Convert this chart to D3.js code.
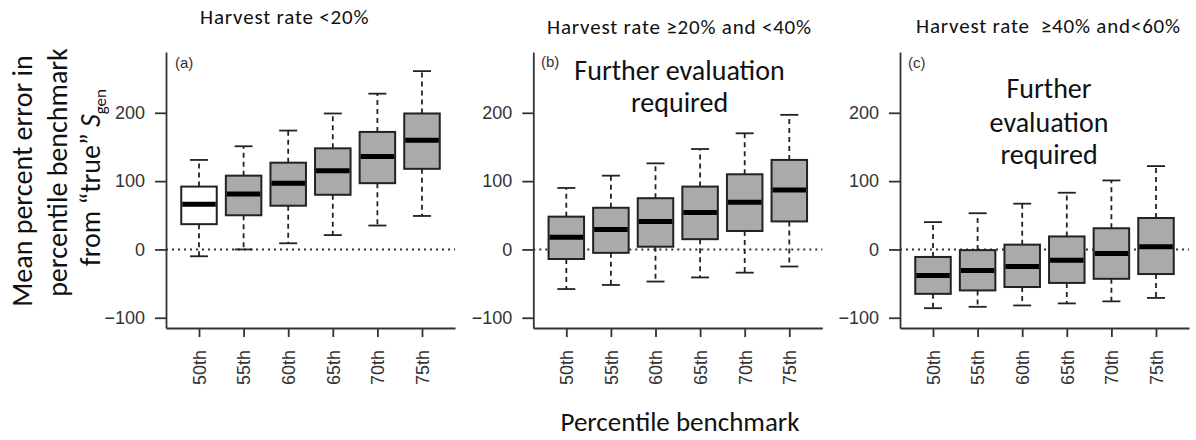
<!DOCTYPE html>
<html>
<head>
<meta charset="utf-8">
<script src="https://d3js.org/d3.v7.min.js"></script>
<style>
  html, body { margin: 0; padding: 0; background: #fff; }
  svg { display: block; }
</style>
</head>
<body>
<svg id="chart" width="1196" height="440"></svg>
<script>
// ---------- data ----------
const categories = ["50th", "55th", "60th", "65th", "70th", "75th"];
const yTicks = [-100, 0, 100, 200];
const panelTitles = ["Harvest rate <20%", "Harvest rate \u226520% and <40%", "Harvest rate  \u226540% and<60%"];
const panelLetters = ["(a)", "(b)", "(c)"];

// panel (a)
const aLow    = [-10, 0, 9, 21, 35, 49];
const aQ1     = [37, 50, 64, 80, 97, 118];
const aMedian = [66, 81, 97, 115, 136, 160];
const aQ3     = [92, 108, 127, 148, 172, 199];
const aHigh   = [131, 151, 174, 199, 228, 261];
// panel (b)
const bLow    = [-58, -52, -47, -41, -34, -25];
const bQ1     = [-14, -5, 4, 15, 27, 41];
const bMedian = [18, 29, 41, 54, 69, 87];
const bQ3     = [48, 61, 75, 92, 110, 131];
const bHigh   = [90, 108, 126, 147, 170, 197];
// panel (c)
const cLow    = [-86, -84, -82, -79, -76, -71];
const cQ1     = [-65, -60, -55, -49, -43, -36];
const cMedian = [-38, -31, -25, -16, -6, 4];
const cQ3     = [-11, -1, 7, 19, 31, 46];
const cHigh   = [40, 53, 67, 83, 101, 122];

const panels = [
  { low: aLow, q1: aQ1, med: aMedian, q3: aQ3, high: aHigh },
  { low: bLow, q1: bQ1, med: bMedian, q3: bQ3, high: bHigh },
  { low: cLow, q1: cQ1, med: cMedian, q3: cQ3, high: cHigh }
];

// ---------- layout ----------
const svg = d3.select("#chart");
const panelLeft = [166, 533.3, 900];
const panelW = 289;
const plotTop = 52, plotBottom = 328;
const y = d3.scaleLinear().domain([-115, 289]).range([plotBottom, plotTop]);
const boxW = 35.5, capW = 18;
const axisColor = "#333";
const tickFont = "'Liberation Sans', Arial, sans-serif";
const textFont = "Carlito, Calibri, Lato, sans-serif";

const titleY = [24, 34, 33];
const titleX = [200, 547, 916];
const letterPos = [[175, 68], [541, 67], [908, 68]];

panels.forEach((p, i) => {
  const left = panelLeft[i];
  const x = d3.scalePoint().domain(categories).range([left, left + panelW]).padding(0.74);
  const g = svg.append("g");

  g.append("line")
    .attr("x1", left).attr("x2", left + panelW)
    .attr("y1", y(0)).attr("y2", y(0))
    .attr("stroke", axisColor).attr("stroke-width", 2)
    .attr("stroke-dasharray", "2,4");

  const ya = g.append("g").attr("transform", `translate(${left},0)`)
    .call(d3.axisLeft(y).tickValues(yTicks).tickSizeInner(11).tickSizeOuter(0).tickPadding(10));
  const xa = g.append("g").attr("transform", `translate(0,${plotBottom})`)
    .call(d3.axisBottom(x).tickSizeInner(9).tickSizeOuter(0));

  [ya, xa].forEach(a => {
    a.selectAll("path, line").attr("stroke", axisColor).attr("stroke-width", 1.8);
    a.selectAll("text").attr("fill", "#333").style("font-family", tickFont).style("font-size", "18px");
  });
  xa.selectAll("text")
    .attr("transform", "rotate(-90)")
    .attr("x", -22).attr("y", 0).attr("dy", "0.35em")
    .attr("text-anchor", "end");

  categories.forEach((c, j) => {
    const cx = x(c);
    const bg = g.append("g");
    [[p.q3[j], p.high[j]], [p.q1[j], p.low[j]]].forEach(([a, b]) => {
      bg.append("line").attr("x1", cx).attr("x2", cx).attr("y1", y(a)).attr("y2", y(b))
        .attr("stroke", "#222").attr("stroke-width", 1.8).attr("stroke-dasharray", "5,4");
      bg.append("line").attr("x1", cx - capW / 2).attr("x2", cx + capW / 2).attr("y1", y(b)).attr("y2", y(b))
        .attr("stroke", "#222").attr("stroke-width", 1.8);
    });
    bg.append("rect")
      .attr("x", cx - boxW / 2).attr("width", boxW)
      .attr("y", y(p.q3[j])).attr("height", y(p.q1[j]) - y(p.q3[j]))
      .attr("fill", (i === 0 && j === 0) ? "#ffffff" : "#aba9ac")
      .attr("stroke", "#222").attr("stroke-width", 2);
    bg.append("line").attr("x1", cx - boxW / 2 + 1).attr("x2", cx + boxW / 2 - 1)
      .attr("y1", y(p.med[j])).attr("y2", y(p.med[j]))
      .attr("stroke", "#000").attr("stroke-width", 5);
  });

  g.append("text").attr("x", letterPos[i][0]).attr("y", letterPos[i][1])
    .text(panelLetters[i]).attr("fill", "#333")
    .style("font-family", tickFont).style("font-size", "15px");

  g.append("text").attr("x", titleX[i]).attr("y", titleY[i])
    .text(panelTitles[i]).attr("fill", "#111")
    .style("font-family", textFont).style("font-size", "21px")
    .style("letter-spacing", "0.8px").style("white-space", "pre");
});

const noteStyle = t => t.attr("fill", "#111").attr("text-anchor", "middle")
  .style("font-family", textFont).style("font-size", "28px");
noteStyle(svg.append("text").attr("x", 679.5).attr("y", 80).text("Further evaluation"));
noteStyle(svg.append("text").attr("x", 679.5).attr("y", 112).text("required"));
noteStyle(svg.append("text").attr("x", 1049).attr("y", 98).text("Further"));
noteStyle(svg.append("text").attr("x", 1049).attr("y", 132).text("evaluation"));
noteStyle(svg.append("text").attr("x", 1049).attr("y", 164).text("required"));

const yt = [
  { text: "Mean percent error in", bx: 32, cy: 181 },
  { text: "percentile benchmark", bx: 67, cy: 172.5 }
];
yt.forEach(l => {
  svg.append("text").attr("transform", `translate(${l.bx},${l.cy}) rotate(-90)`)
    .attr("text-anchor", "middle").attr("fill", "#111")
    .style("font-family", textFont).style("font-size", "28px").text(l.text);
});
const l3 = svg.append("text").attr("transform", `translate(100,177.5) rotate(-90)`)
  .attr("text-anchor", "middle").attr("fill", "#111")
  .style("font-family", textFont).style("font-size", "28px");
l3.append("tspan").text("from \u201ctrue\u201d ");
l3.append("tspan").style("font-style", "italic").text("S");
l3.append("tspan").attr("dy", 6).style("font-size", "17px").text("gen");

svg.append("text").attr("x", 680).attr("y", 431).attr("fill", "#111").attr("text-anchor", "middle")
  .style("font-family", textFont).style("font-size", "27px").text("Percentile benchmark");
</script>
</body>
</html>
